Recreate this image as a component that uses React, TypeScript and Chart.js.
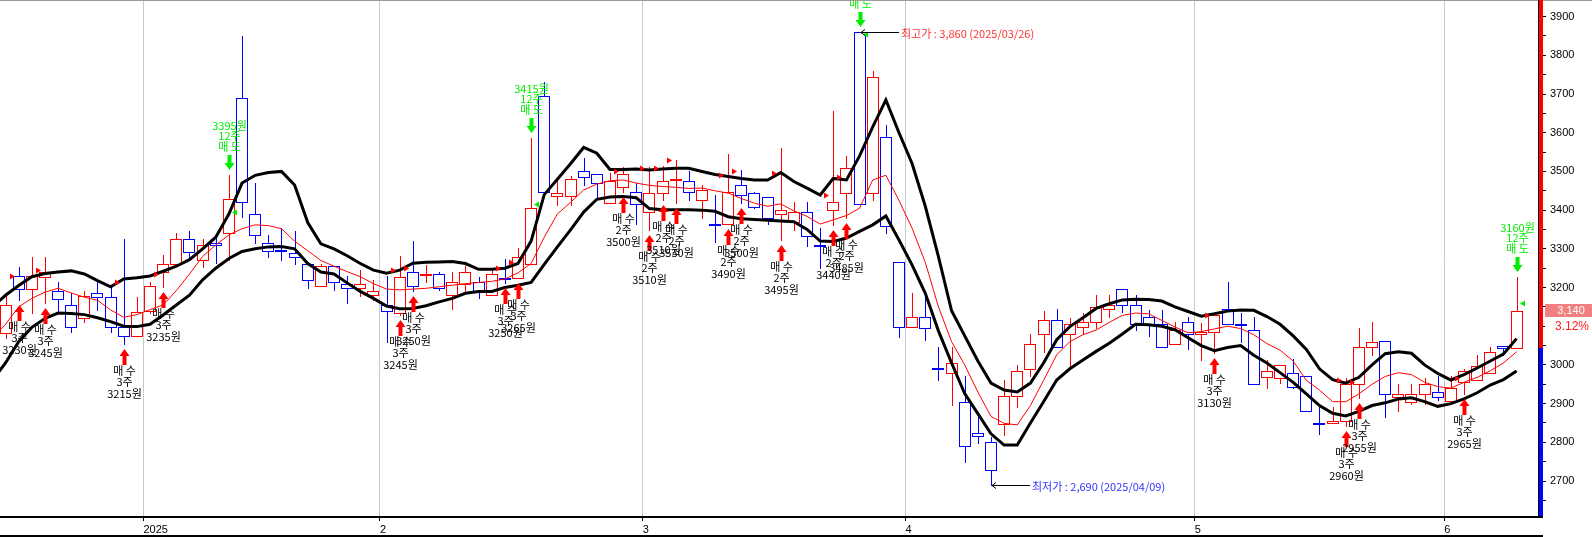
import React, { useEffect, useRef } from 'react';
import { Chart, registerables } from 'chart.js';

Chart.register(...registerables);

// ---------- data ----------
const DATES = [
  '2024-12-12','2024-12-13','2024-12-16','2024-12-17','2024-12-18','2024-12-19','2024-12-20','2024-12-23','2024-12-24','2024-12-26','2024-12-27','2024-12-30',
  '2025-01-02','2025-01-03','2025-01-06','2025-01-07','2025-01-08','2025-01-09','2025-01-10','2025-01-13','2025-01-14','2025-01-15','2025-01-16','2025-01-17','2025-01-20','2025-01-21','2025-01-22','2025-01-23','2025-01-24','2025-01-31',
  '2025-02-03','2025-02-04','2025-02-05','2025-02-06','2025-02-07','2025-02-10','2025-02-11','2025-02-12','2025-02-13','2025-02-14','2025-02-17','2025-02-18','2025-02-19','2025-02-20','2025-02-21','2025-02-24','2025-02-25','2025-02-26','2025-02-27','2025-02-28',
  '2025-03-04','2025-03-05','2025-03-06','2025-03-07','2025-03-10','2025-03-11','2025-03-12','2025-03-13','2025-03-14','2025-03-17','2025-03-18','2025-03-19','2025-03-20','2025-03-21','2025-03-24','2025-03-25','2025-03-26','2025-03-27','2025-03-28','2025-03-31',
  '2025-04-01','2025-04-02','2025-04-03','2025-04-04','2025-04-07','2025-04-08','2025-04-09','2025-04-10','2025-04-11','2025-04-14','2025-04-15','2025-04-16','2025-04-17','2025-04-18','2025-04-21','2025-04-22','2025-04-23','2025-04-24','2025-04-25','2025-04-28','2025-04-29','2025-04-30',
  '2025-05-02','2025-05-07','2025-05-08','2025-05-09','2025-05-12','2025-05-13','2025-05-14','2025-05-15','2025-05-16','2025-05-19','2025-05-20','2025-05-21','2025-05-22','2025-05-23','2025-05-26','2025-05-27','2025-05-28','2025-05-29','2025-05-30',
  '2025-06-02','2025-06-04','2025-06-05','2025-06-09','2025-06-10','2025-06-11',
];

const OPEN = [
  null, 3082, 3230, 3196, 3228, 3192, 3154, 3121, 3185, 3175, 3099, 3075,
  3140, 3239, 3261, 3325, 3271, 3314, 3340, 3689, 3390, 3314, 3297, 3289, 3260, 3204, 3256, 3208, 3198, 3180,
  3154, 3134, 3240, 3233, 3235, 3181, 3208, 3215, 3181, 3224, 3224, 3261, 3695, 3437, 3437, 3500, 3494, 3419, 3459, 3448,
  3394, 3443, 3478, 3474, 3425, 3365, 3363, 3464, 3444, 3433, 3389, 3370, 3395, 3310, 3401, 3444, 3860, 3444, 3588, 3265,
  3099, 3123, 2993, 2979, 2904, 2823, 2800, 2848, 2920, 2989, 3079, 3116, 3079, 3099, 3110, 3144, 3196, 3155, 3123, 3105, 3054, 3110,
  3080, 3084, 3144, 3107, 3089, 2970, 2966, 2978, 2972, 2851, 2849, 2854, 2950, 3047, 3063, 2918, 2904, 2924, 2929,
  2908, 2955, 2961, 2980, 3048, 3045,
];
const HIGH = [
  null, 3177, 3254, 3280, 3278, 3215, 3185, 3190, 3213, 3202, 3325, 3175,
  3215, 3284, 3341, 3347, 3325, 3336, 3491, 3850, 3469, 3336, 3353, 3345, 3267, 3262, 3256, 3230, 3246, 3220,
  3230, 3281, 3320, 3258, 3241, 3241, 3256, 3228, 3247, 3274, 3301, 3586, 3732, 3474, 3487, 3534, 3494, 3495, 3512, 3470,
  3512, 3514, 3530, 3500, 3465, 3439, 3545, 3504, 3448, 3433, 3560, 3422, 3422, 3353, 3656, 3540, 3860, 3760, 3620, 3265,
  3187, 3187, 3047, 3047, 2972, 2877, 2815, 2961, 3000, 3079, 3140, 3144, 3121, 3135, 3181, 3181, 3196, 3181, 3142, 3142, 3112, 3123,
  3108, 3134, 3214, 3134, 3123, 3013, 3000, 3015, 2972, 2891, 2891, 2966, 3095, 3110, 3063, 2951, 2951, 2967, 2972,
  2972, 2989, 3026, 3047, 3048, 3228,
];
const LOW = [
  null, 3070, 3168, 3134, 3160, 3135, 3084, 3110, 3142, 3084, 3054, 3075,
  3135, 3202, 3255, 3271, 3254, 3264, 3271, 3383, 3314, 3278, 3270, 3260, 3198, 3204, 3194, 3159, 3177, 3168,
  3058, 3130, 3191, 3215, 3194, 3144, 3190, 3174, 3181, 3211, 3224, 3261, 3448, 3413, 3413, 3465, 3431, 3419, 3448, 3364,
  3348, 3426, 3418, 3426, 3379, 3317, 3363, 3418, 3405, 3364, 3323, 3349, 3308, 3250, 3362, 3379, 3416, 3426, 3340, 3073,
  3099, 3065, 2961, 2897, 2748, 2799, 2690, 2819, 2892, 2972, 3034, 3047, 2998, 3082, 3095, 3125, 3138, 3090, 3075, 3046, 3054, 3040,
  3013, 3030, 3105, 3060, 2950, 2940, 2954, 2940, 2881, 2822, 2849, 2842, 2914, 3026, 2866, 2882, 2899, 2899, 2910,
  2908, 2924, 2961, 2980, 3026, 3045,
];
const CLOSE = [
  null, 3155, 3196, 3230, 3241, 3170, 3099, 3177, 3175, 3099, 3075, 3138,
  3204, 3261, 3325, 3293, 3310, 3309, 3428, 3420, 3336, 3295, 3295, 3278, 3220, 3256, 3215, 3198, 3208, 3191,
  3140, 3228, 3203, 3236, 3198, 3215, 3240, 3191, 3235, 3222, 3278, 3405, 3448, 3443, 3481, 3485, 3469, 3475, 3494, 3415,
  3443, 3474, 3481, 3448, 3451, 3362, 3448, 3439, 3409, 3379, 3400, 3395, 3334, 3307, 3420, 3508, 3416, 3743, 3358, 3099,
  3123, 3095, 2990, 3004, 2791, 2817, 2728, 2920, 2985, 3053, 3116, 3047, 3105, 3110, 3149, 3155, 3155, 3106, 3105, 3047, 3090, 3080,
  3084, 3128, 3105, 3104, 2950, 2985, 3000, 2944, 2881, 2849, 2855, 2950, 3047, 3058, 2924, 2925, 2924, 2951, 2918,
  2940, 2983, 2998, 3034, 3045, 3140,
];

const BAND_UPPER = [
  3150, 3180, 3205, 3228, 3236, 3240, 3243, 3235, 3218, 3202, 3222, 3225,
  3230, 3242, 3255, 3272, 3300, 3330, 3390, 3470, 3490, 3497, 3500, 3465, 3368, 3313, 3300, 3282, 3262, 3245,
  3237, 3245, 3263, 3265, 3266, 3267, 3262, 3247, 3247, 3250, 3262, 3320, 3440, 3480, 3520, 3562, 3547, 3505, 3505, 3506,
  3504, 3506, 3508, 3508, 3500, 3492, 3487, 3482, 3478, 3478, 3497, 3474, 3457, 3439, 3482, 3478, 3540, 3615, 3685, 3600,
  3520, 3410, 3280, 3140, 3075, 3010, 2953, 2935, 2930, 2953, 3005, 3065, 3099, 3122, 3146, 3158, 3168, 3170, 3169, 3165, 3150, 3138,
  3126, 3132, 3139, 3142, 3141, 3125, 3105, 3075, 3040, 2990, 2962, 2953, 2968, 3000, 3029, 3034, 3030, 3000, 2978,
  2961, 2975, 2992, 3010, 3028, 3068,
];
const BAND_LOWER = [
  2960, 3005, 3060, 3097, 3120, 3134, 3133, 3130, 3122, 3112, 3100, 3099,
  3105, 3129, 3155, 3180, 3220, 3250, 3275, 3293, 3300, 3305, 3306, 3300, 3262, 3240, 3235, 3212, 3190, 3172,
  3152, 3145, 3146, 3153, 3163, 3172, 3185, 3190, 3190, 3200, 3206, 3213, 3260, 3305, 3349, 3395, 3428, 3434, 3435, 3432,
  3404, 3401, 3401, 3401, 3400, 3397, 3383, 3378, 3376, 3374, 3372, 3370, 3350, 3320, 3319, 3328, 3345, 3362, 3385, 3323,
  3258, 3185, 3088, 3005, 2926, 2874, 2822, 2793, 2793, 2850, 2905, 2961, 2990, 3013, 3035, 3056, 3080, 3105, 3104, 3100, 3091, 3070,
  3050, 3037, 3045, 3050, 3025, 3005, 2980, 2955, 2925, 2895, 2875, 2868, 2880, 2895, 2902, 2912, 2915, 2905, 2893,
  2900, 2912, 2928, 2948, 2962, 2984,
];
const MOVING_AVG = [
  3070, 3105, 3150, 3172, 3188, 3198, 3186, 3175, 3167, 3142, 3123, 3130,
  3143, 3155, 3192, 3235, 3280, 3310, 3336, 3352, 3362, 3360, 3352, 3320, 3295, 3270, 3255, 3241, 3228, 3210,
  3196, 3194, 3196, 3198, 3202, 3206, 3210, 3213, 3216, 3222, 3238, 3262, 3330, 3390, 3420, 3452, 3467, 3476, 3478, 3470,
  3464, 3461, 3459, 3456, 3457, 3450, 3444, 3430, 3418, 3410, 3416, 3398, 3384, 3364, 3375, 3386, 3405, 3478, 3490, 3425,
  3353, 3265, 3150, 3060, 3000, 2930, 2867, 2849, 2845, 2895, 2960, 3026, 3060, 3078, 3090, 3110, 3128, 3134, 3132, 3115, 3098, 3083,
  3086, 3093, 3100, 3094, 3078, 3055, 3038, 3010, 2960, 2935, 2905, 2905, 2925, 2950, 2970, 2980, 2975, 2955, 2944,
  2940, 2955, 2968, 2985, 3005, 3034,
];

const BUY_DATES = ['2024-12-16','2024-12-18','2024-12-27','2025-01-03','2025-02-04','2025-02-05','2025-02-14','2025-02-17','2025-02-27','2025-03-04','2025-03-05','2025-03-06','2025-03-12','2025-03-13','2025-03-18','2025-03-24','2025-03-25','2025-05-07','2025-05-21','2025-05-22','2025-06-04'];
const BUY_PRICES = [3230, 3245, 3215, 3235, 3245, 3250, 3250, 3265, 3500, 3510, 3510, 3530, 3490, 3500, 3495, 3440, 3485, 3130, 2960, 2955, 2965];
const BUY_QTY = [3, 3, 3, 3, 3, 3, 3, 3, 2, 2, 2, 2, 2, 2, 2, 2, 2, 3, 3, 3, 3];

const SELL_DATES = ['2025-01-10', '2025-02-18', '2025-03-26', '2025-06-11'];
const SELL_PRICES = [3395, 3415, 3855, 3160];
const SELL_QTY = [12, 12, 12, 12];

const X_TICK_LABELS = ['2025', '2', '3', '4', '5', '6'];
const Y_TICKS = [2650, 2700, 2750, 2800, 2850, 2900, 2950, 3000, 3050, 3100, 3150, 3200, 3250, 3300, 3350, 3400, 3450, 3500, 3550, 3600, 3650, 3700, 3750, 3800, 3850, 3900];

// ---------- layout constants ----------
const FIRST_POS = -12; // position of DATES[0] relative to the first 2025 session
const X_MIN = -11.42;
const X_MAX = 105.63;
const Y_MIN = 2607;
const Y_MAX = 3943;

const RED = '#ff0000';
const BLUE = '#0000ff';
const GREEN = '#00ee00';
const KFONT = "11px 'Noto Sans CJK KR', sans-serif";
const AFONT = "11px 'Liberation Sans', Arial, sans-serif";

const posOf = (k: number) => k + FIRST_POS;

const MONTH_TICKS: number[] = [];
for (let k = 1; k < DATES.length; k++) {
  if (DATES[k].slice(0, 7) !== DATES[k - 1].slice(0, 7)) MONTH_TICKS.push(posOf(k) - 0.5);
}

const fmt = (v: number) => v.toLocaleString('en-US');

function candleLeft(cx: number) {
  return Math.round(cx - 6);
}

const candlePlugin = {
  id: 'candles',
  beforeDatasetsDraw(chart: any) {
    const { ctx, chartArea, scales } = chart;
    const x = scales.x, y = scales.y;
    ctx.save();
    ctx.beginPath();
    ctx.rect(chartArea.left, chartArea.top, chartArea.right - chartArea.left, chartArea.bottom - chartArea.top);
    ctx.clip();
    ctx.lineWidth = 1;
    for (let k = 0; k < DATES.length; k++) {
      const o = OPEN[k], h = HIGH[k], l = LOW[k], c = CLOSE[k];
      if (o == null || h == null || l == null || c == null) continue;
      const color = c > o ? RED : BLUE;
      const cx = x.getPixelForValue(posOf(k));
      const left = candleLeft(cx);
      const wx = left + 6.5;
      ctx.strokeStyle = color;
      ctx.beginPath();
      ctx.moveTo(wx, Math.round(y.getPixelForValue(h)));
      ctx.lineTo(wx, Math.round(y.getPixelForValue(l)) + 1);
      ctx.stroke();
      const yTop = Math.round(y.getPixelForValue(Math.max(o, c)));
      const yBot = Math.round(y.getPixelForValue(Math.min(o, c)));
      const hgt = Math.max(yBot - yTop, 1);
      ctx.fillStyle = '#ffffff';
      ctx.fillRect(left, yTop, 12, hgt + 1);
      ctx.strokeRect(left + 0.5, yTop + 0.5, 11, hgt);
    }
    ctx.restore();
  },
};

function upArrow(ctx: any, x: number, tip: number) {
  ctx.beginPath();
  ctx.moveTo(x, tip);
  ctx.lineTo(x + 5, tip + 7);
  ctx.lineTo(x + 2, tip + 7);
  ctx.lineTo(x + 2, tip + 16);
  ctx.lineTo(x - 2, tip + 16);
  ctx.lineTo(x - 2, tip + 7);
  ctx.lineTo(x - 5, tip + 7);
  ctx.closePath();
  ctx.fill();
}
function downArrow(ctx: any, x: number, tip: number) {
  ctx.beginPath();
  ctx.moveTo(x, tip);
  ctx.lineTo(x + 5, tip - 7);
  ctx.lineTo(x + 2, tip - 7);
  ctx.lineTo(x + 2, tip - 15);
  ctx.lineTo(x - 2, tip - 15);
  ctx.lineTo(x - 2, tip - 7);
  ctx.lineTo(x - 5, tip - 7);
  ctx.closePath();
  ctx.fill();
}

const signalPlugin = {
  id: 'signals',
  afterDatasetsDraw(chart: any) {
    const { ctx, chartArea, scales } = chart;
    const x = scales.x, y = scales.y;
    ctx.save();
    ctx.beginPath();
    ctx.rect(chartArea.left, chartArea.top, chartArea.right - chartArea.left, chartArea.bottom - chartArea.top);
    ctx.clip();
    ctx.font = KFONT;
    ctx.textAlign = 'center';
    ctx.textBaseline = 'middle';

    // buys
    BUY_DATES.forEach((d, n) => {
      const k = DATES.indexOf(d);
      if (k < 0) return;
      const cx = x.getPixelForValue(posOf(k));
      const left = candleLeft(cx);
      const ax = left + 6.5;
      const py = Math.round(y.getPixelForValue(BUY_PRICES[n])) + 0.5;
      ctx.fillStyle = RED;
      ctx.beginPath();
      ctx.moveTo(left - 3, py - 3);
      ctx.lineTo(left - 3, py + 3);
      ctx.lineTo(left + 2, py);
      ctx.closePath();
      ctx.fill();
      const tip = Math.round(y.getPixelForValue(LOW[k] as number)) + 5;
      upArrow(ctx, ax, tip);
      ctx.fillStyle = '#000000';
      const lines = ['매 수', `${BUY_QTY[n]}주`, `${BUY_PRICES[n]}원`];
      lines.forEach((t, j) => ctx.fillText(t, ax, tip + 22 + j * 11.3));
    });

    // sells
    SELL_DATES.forEach((d, n) => {
      const k = DATES.indexOf(d);
      if (k < 0) return;
      const cx = x.getPixelForValue(posOf(k));
      const left = candleLeft(cx);
      const ax = left + 6.5;
      const right = left + 12;
      const py = Math.round(y.getPixelForValue(SELL_PRICES[n])) + 0.5;
      ctx.fillStyle = GREEN;
      ctx.beginPath();
      ctx.moveTo(right - 3, py);
      ctx.lineTo(right + 2, py - 3);
      ctx.lineTo(right + 2, py + 3);
      ctx.closePath();
      ctx.fill();
      const tip = Math.round(y.getPixelForValue(HIGH[k] as number)) - 5;
      downArrow(ctx, ax, tip);
      const lines = [`${SELL_PRICES[n]}원`, `${SELL_QTY[n]}주`, '매 도'];
      lines.forEach((t, j) => ctx.fillText(t, ax, tip - 23 - (2 - j) * 10.7));
    });

    // highest / lowest notes
    let hiK = -1, loK = -1;
    for (let k = 0; k < DATES.length; k++) {
      if (HIGH[k] == null) continue;
      if (hiK < 0 || (HIGH[k] as number) >= (HIGH[hiK] as number)) hiK = k;
      if (loK < 0 || (LOW[k] as number) < (LOW[loK] as number)) loK = k;
    }
    const note = (k: number, v: number, label: string, color: string) => {
      const cx = x.getPixelForValue(posOf(k));
      const yy = Math.round(y.getPixelForValue(v)) + 0.5;
      const tipX = Math.round(cx) + 1;
      ctx.strokeStyle = '#000000';
      ctx.lineWidth = 1;
      ctx.beginPath();
      ctx.moveTo(tipX + 4, yy - 3);
      ctx.lineTo(tipX, yy);
      ctx.lineTo(tipX + 4, yy + 3);
      ctx.moveTo(tipX, yy);
      ctx.lineTo(tipX + 38, yy);
      ctx.stroke();
      ctx.fillStyle = color;
      ctx.textAlign = 'left';
      ctx.fillText(`${label} : ${fmt(v)} (${DATES[k].replace(/-/g, '/')})`, tipX + 40, yy + 1);
    };
    note(hiK, HIGH[hiK] as number, '최고가', '#ff3333');
    note(loK, LOW[loK] as number, '최저가', '#3333ff');
    ctx.restore();
  },
};

const framePlugin = {
  id: 'frame',
  afterDraw(chart: any) {
    const { ctx, chartArea, scales, width } = chart;
    const y = scales.y;
    const n = CLOSE.length;
    const last = CLOSE[n - 1] as number;
    const prev = CLOSE[n - 2] as number;
    const yPrev = Math.round(y.getPixelForValue(prev));
    const R = chartArea.right;
    const B = chartArea.bottom;
    ctx.save();
    // top border
    ctx.fillStyle = '#9a9a9a';
    ctx.fillRect(0, 0, width, 1);
    // colored price bar
    ctx.fillStyle = '#000000';
    ctx.fillRect(R, 0, 1, B);
    ctx.fillStyle = RED;
    ctx.fillRect(R + 1, 0, 4, yPrev);
    ctx.fillStyle = BLUE;
    ctx.fillRect(R + 1, yPrev, 4, B - yPrev);
    // bottom lines
    ctx.fillStyle = '#000000';
    ctx.fillRect(0, B - 1, R + 5, 2);
    ctx.fillRect(0, 535, R + 5, 2);
    // last price box and change text (they cover the axis labels beneath them)
    const yl = y.getPixelForValue(last);
    const boxTop = Math.round(yl - 6.5);
    ctx.fillStyle = 'rgb(240,128,128)';
    ctx.fillRect(R + 7, boxTop, width - R - 7, 13);
    ctx.fillStyle = '#ffffff';
    ctx.fillRect(R + 7, boxTop + 13, width - R - 7, 16);
    ctx.font = AFONT;
    ctx.textAlign = 'center';
    ctx.textBaseline = 'middle';
    ctx.fillStyle = '#ffffff';
    ctx.fillText(fmt(last), R + 33, yl + 0.5);
    ctx.fillStyle = '#ff2020';
    ctx.font = "12px 'Liberation Sans', Arial, sans-serif";
    ctx.fillText(`${((last / prev - 1) * 100).toFixed(2)}%`, R + 34, yl + 15.5);
    ctx.restore();
  },
};

export default function App() {
  const ref = useRef<HTMLCanvasElement | null>(null);
  useEffect(() => {
    const canvas = ref.current;
    if (!canvas) return;
    const toPts = (arr: number[]) => arr.map((v, k) => ({ x: posOf(k), y: v }));
    const chart = new Chart(canvas, {
      type: 'line',
      data: {
        datasets: [
          { label: '상한', data: toPts(BAND_UPPER), borderColor: '#000000', borderWidth: 3, pointRadius: 0, tension: 0, fill: false },
          { label: '하한', data: toPts(BAND_LOWER), borderColor: '#000000', borderWidth: 3, pointRadius: 0, tension: 0, fill: false },
          { label: '이동평균', data: toPts(MOVING_AVG), borderColor: '#ff0000', borderWidth: 1, pointRadius: 0, tension: 0, fill: false },
        ],
      } as any,
      options: {
        animation: false,
        responsive: false,
        devicePixelRatio: 1,
        events: [],
        layout: { padding: 0, autoPadding: false } as any,
        plugins: { legend: { display: false }, tooltip: { enabled: false } },
        scales: {
          x: {
            type: 'linear',
            position: 'bottom',
            min: X_MIN,
            max: X_MAX,
            afterBuildTicks: (s: any) => { s.ticks = MONTH_TICKS.map((v) => ({ value: v })); },
            afterFit: (s: any) => { s.height = 20; s.paddingLeft = 0; s.paddingRight = 0; },
            grid: { color: '#c8c8c8', lineWidth: 1, drawOnChartArea: true, drawTicks: true, tickLength: 4, tickColor: '#000000' },
            border: { display: false },
            ticks: {
              autoSkip: false,
              maxRotation: 0,
              minRotation: 0,
              align: 'start',
              padding: 2,
              color: '#000000',
              font: { family: "'Liberation Sans', Arial, sans-serif", size: 11 },
              callback: (v: any) => {
                const i = MONTH_TICKS.findIndex((t) => Math.abs(t - Number(v)) < 1e-6);
                return i >= 0 ? X_TICK_LABELS[i] : '';
              },
            },
          },
          y: {
            type: 'linear',
            position: 'right',
            min: Y_MIN,
            max: Y_MAX,
            afterBuildTicks: (s: any) => { s.ticks = Y_TICKS.map((v) => ({ value: v })); },
            afterFit: (s: any) => { s.width = 54; s.paddingTop = 0; s.paddingBottom = 0; },
            grid: { drawOnChartArea: false, drawTicks: true, tickLength: 8, tickColor: '#000000', color: '#000000' },
            border: { display: false },
            ticks: {
              autoSkip: false,
              padding: 4,
              color: '#000000',
              font: { family: "'Liberation Sans', Arial, sans-serif", size: 11 },
              callback: (v: any) => (Number(v) % 100 === 0 ? String(v) : ''),
            },
          },
        },
      } as any,
      plugins: [candlePlugin, signalPlugin, framePlugin],
    });
    return () => chart.destroy();
  }, []);
  return (
    <canvas
      ref={ref}
      width={1592}
      height={537}
      style={{ position: 'fixed', left: 0, top: 0, width: 1592, height: 537, background: '#ffffff' }}
    />
  );
}
